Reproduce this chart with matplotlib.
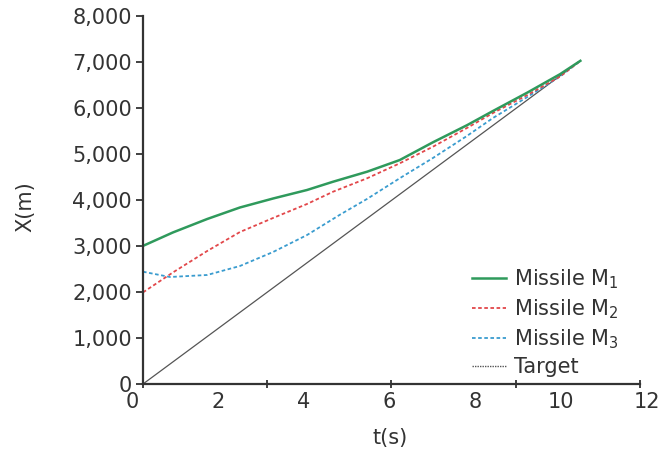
import matplotlib
matplotlib.use("Agg")
import matplotlib.pyplot as plt
from matplotlib.lines import Line2D

# values (t in s, X in m)
t_m1 = [0, 0.72, 1.55, 2.34, 3.14, 3.96, 4.59, 5.41, 6.20, 7.00, 7.82, 8.45, 9.28, 10.07, 10.56]
x_m1 = [3000, 3291, 3584, 3834, 4029, 4214, 4394, 4611, 4865, 5250, 5620, 5930, 6330, 6730, 7020]

t_m2 = [0, 0.72, 1.55, 2.34, 3.14, 3.96, 4.59, 5.41, 6.20, 7.00, 7.82, 8.45, 9.28, 10.07, 10.56]
x_m2 = [1990, 2422, 2889, 3301, 3606, 3910, 4177, 4468, 4794, 5154, 5560, 5886, 6277, 6679, 7020]

t_m3 = [0, 0.65, 1.55, 2.34, 3.14, 3.96, 4.76, 5.41, 6.20, 7.00, 7.82, 8.45, 9.28, 10.07, 10.56]
x_m3 = [2439, 2324, 2368, 2563, 2867, 3236, 3680, 4020, 4470, 4909, 5387, 5778, 6234, 6680, 7020]

t_target = [0, 10.56]
x_target = [0, 7020]

x_tick_marks = [0, 3, 6, 9, 12]
x_tick_labels = ["0", "2", "4", "6", "8", "10", "12"]
y_ticks = [0, 1000, 2000, 3000, 4000, 5000, 6000, 7000, 8000]

plt.rcParams["font.family"] = "DejaVu Sans"
plt.rcParams["mathtext.default"] = "regular"
fs = 15
txt = "#333333"

W, H = 664, 459
fig = plt.figure(figsize=(W / 100, H / 100), dpi=100)

# axis runs from px 143 (t=0) to px 640 (t=12); labels sit a bit off the marks
ppu = (640 - 143) / 12.0
left_px, right_px = 120, 660
ax = fig.add_axes([left_px / W, 1 - 384 / H, (right_px - left_px) / W, (384 - 15.7) / H])
ax.set_xlim((left_px - 143) / ppu, (right_px - 143) / ppu)
ax.set_ylim(0, 8000)

c1, c2, c3, c4 = "#2f9a5c", "#e2474a", "#3a9ccf", "#555555"
dash = (0, (2, 1.4))
ax.plot(t_target, x_target, color=c4, lw=0.9, clip_on=False)
ax.plot(t_m3, x_m3, color=c3, lw=1.3, ls=dash, clip_on=False)
ax.plot(t_m2, x_m2, color=c2, lw=1.3, ls=dash, clip_on=False)
ax.plot(t_m1, x_m1, color=c1, lw=1.8, clip_on=False)

for s in ["top", "right"]:
    ax.spines[s].set_visible(False)
for s in ["left", "bottom"]:
    ax.spines[s].set_color(txt)
    ax.spines[s].set_linewidth(1.6)
ax.spines["left"].set_position(("data", 0))
ax.spines["bottom"].set_bounds(0, 12)

# labels placed where the picture has them (px 132 .. 647)
lab_pos = [(132 + k * (647 - 132) / 6.0 - 143) / ppu for k in range(len(x_tick_labels))]
ax.set_xticks(lab_pos)
ax.set_xticklabels(x_tick_labels, fontsize=fs, color=txt)
ax.tick_params(axis="x", which="major", length=0, pad=6)
ax.set_xticks(x_tick_marks, minor=True)
ax.tick_params(axis="x", which="minor", length=6, width=1.3, direction="inout", color=txt)

ax.set_yticks(y_ticks)
ax.set_yticklabels([f"{v:,}" for v in y_ticks], fontsize=fs, color=txt)
ax.tick_params(axis="y", length=5, width=1.3, direction="out", color=txt, pad=3)

fig.text(390 / W, 1 - 438 / H, "t(s)", fontsize=fs, color=txt, ha="center", va="center")
fig.text(25 / W, 1 - 207 / H, "X(m)", fontsize=fs, color=txt, ha="center", va="center", rotation=90)

handles = [
    Line2D([], [], color=c1, lw=1.8),
    Line2D([], [], color=c2, lw=1.3, ls=dash),
    Line2D([], [], color=c3, lw=1.3, ls=dash),
    Line2D([], [], color=c4, lw=1.0, ls=(0, (1, 0.8))),
]
labels = ["Missile M$_1$", "Missile M$_2$", "Missile M$_3$", "Target"]
ax.legend(handles, labels, loc="upper left", bbox_to_anchor=(462 / W, 1 - 257 / H),
          bbox_transform=fig.transFigure, frameon=False, fontsize=fs, handlelength=1.6,
          handletextpad=0.4, labelspacing=0.3, borderpad=0, labelcolor=txt)

fig.savefig("out.png", dpi=100)
